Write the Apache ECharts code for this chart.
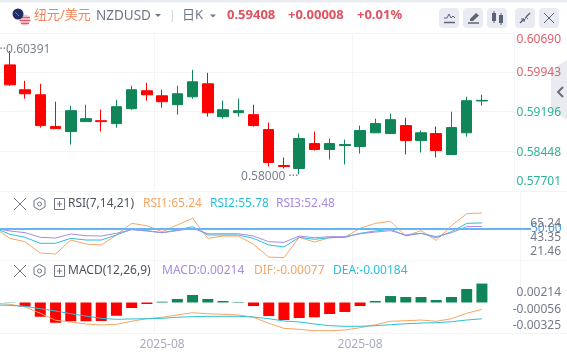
<!DOCTYPE html>
<html>
<head>
<meta charset="utf-8">
<style>html,body{margin:0;padding:0;background:#fff}#chart{width:567px;height:353px}</style>
<script src="https://cdn.jsdelivr.net/npm/echarts@6/dist/echarts.min.js"></script>
</head>
<body>
<div id="chart"></div>
<script>
// open, close, low, high
const candles = [
  [0.60311,0.60178,0.60140,0.60391],[0.60083,0.59704,0.59685,0.60349],[0.59609,0.59533,0.59439,0.59780],
  [0.59514,0.58927,0.58889,0.59723],[0.58908,0.58870,0.58870,0.59382],[0.58813,0.59211,0.58566,0.59306],
  [0.59003,0.59059,0.59003,0.59325],[0.59020,0.59003,0.58813,0.59230],[0.58965,0.59287,0.58889,0.59420],
  [0.59249,0.59609,0.59230,0.59685],[0.59590,0.59514,0.59401,0.59742],[0.59495,0.59382,0.59268,0.59609],
  [0.59325,0.59533,0.59135,0.59685],[0.59476,0.59761,0.59439,0.59988],[0.59723,0.59173,0.59097,0.59932],
  [0.59097,0.59230,0.59059,0.59401],[0.59173,0.59211,0.59097,0.59439],[0.59135,0.58927,0.58908,0.59325],
  [0.58851,0.58225,0.58149,0.58984],[0.58168,0.58149,0.58111,0.58320],[0.58111,0.58680,0.58000,0.58775],
  [0.58585,0.58472,0.58453,0.58813],[0.58472,0.58585,0.58282,0.58680],[0.58547,0.58566,0.58187,0.58661],
  [0.58528,0.58832,0.58396,0.58927],[0.58790,0.58965,0.58790,0.59059],[0.58775,0.59040,0.58775,0.59154],
  [0.58927,0.58642,0.58377,0.59078],[0.58642,0.58790,0.58415,0.58832],[0.58775,0.58453,0.58320,0.58908],
  [0.58377,0.58889,0.58377,0.59192],[0.58790,0.59401,0.58718,0.59477],[0.59396,0.59408,0.59306,0.59515]
];
const rsi1 = [51,41.1,37.9,27.1,26.2,39.5,35.7,34.8,44.3,55.4,53.1,47.4,53.8,60.2,41.1,43.3,43.3,35.4,23.3,22.7,42.1,37.6,41.7,42.1,50.7,55.4,57.3,43.3,48.4,39.2,53.1,64.6,65.24];
const rsi2 = [51,45,42.1,36.4,36.4,41.1,39.5,39.5,44.3,49.7,48.4,46.5,49,52.2,44.3,44.3,44.3,41.1,34.8,32.9,42.1,40.2,41.7,42.1,45.9,48.1,49.7,43.6,45.9,41.7,47.4,55.4,55.78];
const rsi3 = [50.7,48.1,46.5,42.1,41.4,45.2,43.6,43.3,45.9,49.3,48.1,46.5,48.4,50.7,45.5,45.5,45.5,43.3,37.9,37.3,43.3,41.7,42.7,42.7,45.5,47.1,48.4,44.3,45.9,42.7,46.5,52.2,52.48];
const macd = [0,0.00003,-0.00047,-0.00161,-0.00229,-0.00212,-0.00212,-0.00209,-0.0015,-0.00062,-0.00017,0.00009,0.0004,0.00085,0.0004,0.00017,0.00006,-0.0004,-0.00153,-0.00198,-0.00175,-0.00167,-0.0013,-0.00107,-0.0004,0.00017,0.00073,0.00062,0.00062,0.00028,0.00062,0.00153,0.00214];
const dif = [-0.00009,-0.0002,-0.00051,-0.00122,-0.00201,-0.0022,-0.00243,-0.00254,-0.00246,-0.00212,-0.00183,-0.00167,-0.00141,-0.00115,-0.00127,-0.00133,-0.00141,-0.00167,-0.00235,-0.00292,-0.00303,-0.00319,-0.00319,-0.00311,-0.00285,-0.00251,-0.00212,-0.00206,-0.00198,-0.00212,-0.00183,-0.00122,-0.00077];
const dea = [-0.00028,-0.00032,-0.00043,-0.0007,-0.00096,-0.00127,-0.00153,-0.00179,-0.0019,-0.00186,-0.00183,-0.00179,-0.00167,-0.0016,-0.00156,-0.00156,-0.00156,-0.00164,-0.00183,-0.00209,-0.0022,-0.00243,-0.00262,-0.00269,-0.00269,-0.00262,-0.00251,-0.0024,-0.00232,-0.00228,-0.00217,-0.00198,-0.00184];
const priceGridTicks = [0.58448,0.59196,0.59943];
const priceEndTicks = [0.57701,0.6069];
const rsiTicks = [21.46,43.35,65.24];
const macdTicks = [-0.00325,-0.00056,0.00214];
const categories = new Array(35).fill('2025-08');
const labelledBars = [11,24];

const RED = '#ff0000', GREEN = '#0f8558', ORANGE = '#f7a563', CYAN = '#2bc0da', PURPLE = '#a78be6';
const GRID = '#f2f4f8', FONT = '"Noto Sans","Noto Sans CJK SC",sans-serif';
const gridLeft = -13, gridRight = 47;

const chart = echarts.init(document.getElementById('chart'), null, {renderer: 'canvas'});

function txt(x, y, text, fill, opt) {
  opt = opt || {};
  return {type: 'text', x: x, y: y, z: 6, silent: true, style: {text: text, fill: fill,
    font: (opt.weight || 'normal') + ' ' + (opt.size || 12) + 'px ' + FONT, verticalAlign: 'middle', align: opt.align || 'left'}};
}
function ln(x1, y1, x2, y2, color, w) {
  return {type: 'line', z: 6, silent: true, shape: {x1: x1, y1: y1, x2: x2, y2: y2}, style: {stroke: color, lineWidth: w || 1}};
}
function poly(points, color, w) {
  return {type: 'polyline', z: 6, silent: true, shape: {points: points}, style: {stroke: color, fill: 'none', lineWidth: w || 1}};
}
function rect(x, y, w, h, fill, r, z) {
  return {type: 'rect', z: z === undefined ? 6 : z, silent: true, shape: {x: x, y: y, width: w, height: h, r: r || 0}, style: {fill: fill}};
}
function tri(x, y, color) {
  return {type: 'polygon', z: 6, silent: true, shape: {points: [[x - 3, y - 1.5], [x + 3, y - 1.5], [x, y + 1.5]]}, style: {fill: color}};
}
function paneIcons(y) {
  const c = '#70778a';
  return [
    ln(14, y - 6, 26, y + 6, c), ln(26, y - 6, 14, y + 6, c),
    {type: 'polygon', z: 6, silent: true, shape: {points: [[39.5, y - 6.5], [45, y - 3.5], [45, y + 3], [39.5, y + 6], [34, y + 3], [34, y - 3.5]]}, style: {stroke: c, fill: 'none', lineWidth: 1}},
    {type: 'circle', z: 6, silent: true, shape: {cx: 39.5, cy: y, r: 2}, style: {stroke: c, fill: 'none', lineWidth: 1}},
    {type: 'rect', z: 6, silent: true, shape: {x: 54.5, y: y - 5.5, width: 10, height: 11}, style: {stroke: c, fill: 'none', lineWidth: 1}},
    ln(57, y, 62, y, c), ln(59.5, y - 3, 59.5, y + 3, c)
  ];
}

const BTN = '#e8ebf1', IC = '#5d6475';
const graphics = [
  rect(0, 0, 567, 2.5, '#e9ecf1', 0, 6),
  // flag
  {type: 'circle', z: 6, silent: true, shape: {cx: 25, cy: 20, r: 5.5}, style: {fill: '#f4c9cf'}},
  ln(20, 17.5, 30, 17.5, '#dc5a6b', 1.2), ln(19.6, 20.5, 30.4, 20.5, '#dc5a6b', 1.2), ln(21, 23.5, 29, 23.5, '#dc5a6b', 1.2),
  {type: 'circle', z: 6, silent: true, shape: {cx: 18, cy: 14, r: 5.5}, style: {fill: '#1f2f66'}},
  ln(15, 12, 19, 16, '#d9505f', 1),
  // title row
  txt(34, 15, '纽元/美元', '#f6845b', {size: 13}),
  txt(96, 16, 'NZDUSD', '#6f7687', {size: 13.5}),
  tri(158, 15.5, '#6f7687'),
  ln(172.5, 10, 172.5, 22, '#d5d8df'),
  txt(182, 15, '日K', '#6f7687', {size: 13}),
  tri(213, 16, '#6f7687'),
  txt(227, 15.5, '0.59408', '#e2515f', {size: 13, weight: 'bold'}),
  txt(288, 15.5, '+0.00008', '#e2515f', {size: 13, weight: 'bold'}),
  txt(357, 15.5, '+0.01%', '#e2515f', {size: 13, weight: 'bold'}),
  // toolbar
  rect(439, 8, 20, 20, BTN, 4), rect(463, 8, 20, 20, BTN, 4), rect(487, 8, 20, 20, BTN, 4), rect(515, 8, 20, 20, BTN, 4), rect(539, 8, 20, 20, BTN, 4),
  poly([[444, 18], [447, 18], [449, 14], [451, 18], [453, 16], [455, 18]], IC), ln(444, 22.5, 455, 22.5, IC, 1.5),
  {type: 'polygon', z: 6, silent: true, shape: {points: [[470, 19], [476, 13], [479, 15.5], [473, 21], [470, 21]]}, style: {fill: IC}}, ln(468, 23, 479, 23, IC, 1.5),
  rect(492, 13, 4, 8, IC), ln(494, 11, 494, 23, IC), rect(499, 15, 4, 8, IC), ln(501, 13, 501, 25, IC),
  ln(520, 23, 524, 19, IC, 1.5), ln(530, 13, 526, 17, IC, 1.5), poly([[524, 21], [526, 17], [528, 19]], IC), poly([[521, 19], [524, 19], [524, 22]], IC),
  ln(544, 13, 554, 23, IC), ln(554, 13, 544, 23, IC),
  // pane frame
  ln(0, 33.5, 514, 33.5, GRID), ln(514.5, 33, 514.5, 191, GRID),
  rect(515, 34, 52, 156, '#ffffff', 0, 1),
  {type: 'polygon', z: 1, silent: true, shape: {points: [[551, 70], [567, 60], [567, 120], [551, 110]]}, style: {fill: '#e9ebf0'}},
  poly([[563, 87], [558, 92], [563, 97]], '#62697a', 1.8),
  ln(0, 191.5, 567, 191.5, GRID), ln(0, 260.5, 567, 260.5, GRID), ln(0, 333.5, 567, 333.5, GRID),
  // the 50 level runs a little past the pane edge
  ln(519, 229, 531, 229, '#66b6f6', 2)
].concat(paneIcons(204), paneIcons(271), [
  txt(68, 204, 'RSI(7,14,21)', '#4d5260'),
  txt(143, 204, 'RSI1:65.24', ORANGE),
  txt(210, 204, 'RSI2:55.78', CYAN),
  txt(276, 204, 'RSI3:52.48', PURPLE),
  txt(68, 271, 'MACD(12,26,9)', '#4d5260'),
  txt(162, 271, 'MACD:0.00214', PURPLE),
  txt(254, 271, 'DIF:-0.00077', ORANGE),
  txt(333, 271, 'DEA:-0.00184', CYAN)
]);

function barInterval(i) { return labelledBars.indexOf(i) >= 0; }
function xAxisFor(gridIndex, showLabel) {
  return {
    type: 'category', gridIndex: gridIndex, data: categories, boundaryGap: true,
    axisLine: {show: false},
    axisTick: {show: false, alignWithLabel: true, interval: barInterval},
    axisLabel: {show: showLabel, interval: barInterval, color: '#a9adb8', fontSize: 12, fontFamily: FONT, margin: 6},
    splitLine: {show: true, interval: barInterval, lineStyle: {color: GRID, width: 1}}
  };
}
// labels sit a little off their grid lines in the original, so they get their own axes
function labelAxis(gridIndex, min, max, ticks, color, digits) {
  return {
    type: 'value', gridIndex: gridIndex, position: 'right', min: min, max: max, z: 5,
    axisLine: {show: false}, axisTick: {show: false, customValues: ticks}, splitLine: {show: false},
    axisLabel: {customValues: ticks, color: color, fontSize: 12, fontFamily: FONT, align: 'right', margin: 41,
      formatter: function (v) { return v.toFixed(digits); }}
  };
}
const priceColor = function (v) { return v >= 0.595 ? '#e2606d' : '#2fb298'; };

function line(name, data, color, xi, yi, extra) {
  return Object.assign({name: name, type: 'line', data: data, xAxisIndex: xi, yAxisIndex: yi, symbol: 'none', silent: true,
    lineStyle: {color: color, width: 1}, z: 3}, extra || {});
}

const option = {
  animation: false,
  textStyle: {fontFamily: FONT},
  grid: [
    {left: gridLeft, right: gridRight, top: 33, height: 157, outerBoundsMode: 'none'},
    {left: gridLeft, right: gridRight, top: 192, height: 68, outerBoundsMode: 'none'},
    {left: gridLeft, right: gridRight, top: 261, height: 72, outerBoundsMode: 'none'}
  ],
  xAxis: [xAxisFor(0, false), xAxisFor(1, false), xAxisFor(2, true)],
  yAxis: [
    {type: 'value', gridIndex: 0, min: 0.57701, max: 0.6069, axisLine: {show: false}, axisLabel: {show: false},
      axisTick: {show: false, customValues: priceGridTicks}, splitLine: {show: true, lineStyle: {color: GRID}}},
    labelAxis(0, 0.57533, 0.60837, priceEndTicks, priceColor, 5),
    labelAxis(0, 0.57757, 0.60691, priceGridTicks, priceColor, 5),
    {type: 'value', gridIndex: 1, min: 20.48, max: 85.24, show: false},
    labelAxis(1, 8.96, 115.24, rsiTicks, '#737a8a', 2),
    {type: 'value', gridIndex: 2, min: -0.003447, max: 0.00469, show: false},
    labelAxis(2, -0.00458, 0.00752, macdTicks, '#737a8a', 5)
  ],
  graphic: {elements: graphics},
  series: [
    {
      type: 'candlestick', data: candles, xAxisIndex: 0, yAxisIndex: 0, barWidth: 11, silent: true,
      itemStyle: {color: GREEN, color0: RED, borderColor: GREEN, borderColor0: RED, borderWidth: 1},
      markPoint: {
        silent: true, symbol: 'circle', symbolSize: 0,
        data: [
          {coord: [0, 0.60391], label: {position: 'right', distance: 5, offset: [0, 1], formatter: '··0.60391'}},
          {coord: [20, 0.58], label: {position: 'left', distance: 1, offset: [0, 2], formatter: '0.58000 ···'}}
        ],
        label: {show: true, color: '#7c8291', fontSize: 12, fontFamily: FONT}
      }
    },
    line('RSI1', rsi1, ORANGE, 1, 3),
    line('RSI2', rsi2, CYAN, 1, 3),
    line('RSI3', rsi3, PURPLE, 1, 3, {
      markLine: {
        silent: true, symbol: 'none', animation: false,
        data: [{yAxis: 50}],
        lineStyle: {color: '#66b6f6', width: 2, type: 'solid'},
        label: {show: true, position: 'end', distance: 11, color: '#3f9df0', fontSize: 12, fontFamily: FONT, formatter: '50.00'}
      }
    }),
    {
      type: 'bar', data: macd, xAxisIndex: 2, yAxisIndex: 5, barWidth: 11, silent: true, z: 2,
      itemStyle: {color: function (p) { return p.value >= 0 ? GREEN : RED; }}
    },
    line('DIF', dif, ORANGE, 2, 5),
    line('DEA', dea, CYAN, 2, 5)
  ]
};
chart.setOption(option);
</script>
</body>
</html>
